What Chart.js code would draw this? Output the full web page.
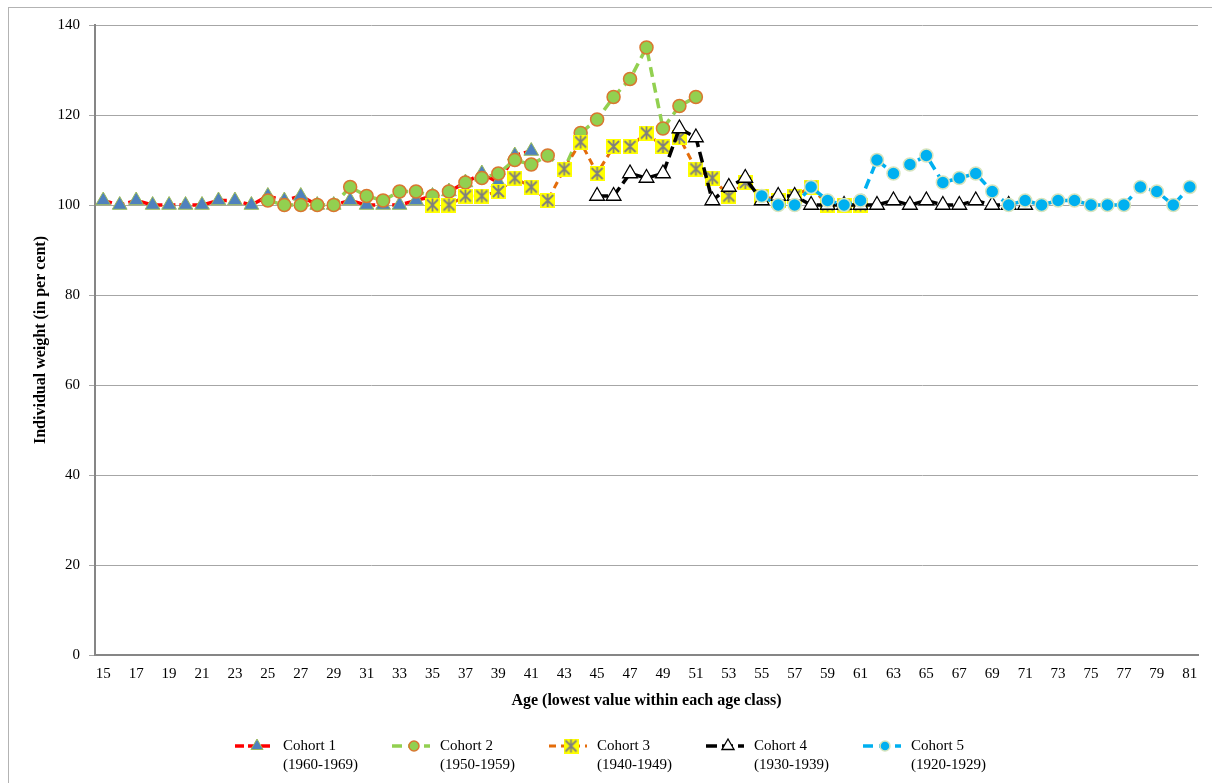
<!DOCTYPE html>
<html lang="en">
<head>
  <meta charset="UTF-8" />
  <title>Individual weight by age and cohort</title>
  <script src="https://cdn.jsdelivr.net/npm/chart.js"></script>
  <style>
    html, body { margin: 0; padding: 0; background: #fff; overflow: hidden; }
    #wrap { position: relative; width: 1212px; height: 783px; }
  </style>
</head>
<body>
  <div id="wrap"><canvas id="weightChart"></canvas></div>

  <script>
    // ages 15..81
    const ages = [];
    for (let a = 15; a <= 81; a++) ages.push(String(a));

    const yTicks = [0, 20, 40, 60, 80, 100, 120, 140];

    const cohortNames = ['Cohort 1', 'Cohort 2', 'Cohort 3', 'Cohort 4', 'Cohort 5'];
    const cohortYears = ['(1960-1969)', '(1950-1959)', '(1940-1949)', '(1930-1939)', '(1920-1929)'];
    const cohortStart = [15, 25, 35, 45, 55];

    // values, starting at cohortStart age
    const cohort1 = [101, 100, 101, 100, 100, 100, 100, 101, 101, 100, 102, 101, 102, 100, 100,
                     101, 100, 100, 100, 101, 102, 103, 105, 107, 105, 111, 112];
    const cohort2 = [101, 100, 100, 100, 100, 104, 102, 101, 103, 103, 102, 103, 105, 106, 107,
                     110, 109, 111, 108, 116, 119, 124, 128, 135, 117, 122, 124];
    const cohort3 = [100, 100, 102, 102, 103, 106, 104, 101, 108, 114, 107, 113, 113, 116, 113,
                     115, 108, 106, 102, 105, 102, 101, 102, 104, 100, 100, 100];
    const cohort4 = [102, 102, 107, 106, 107, 117, 115, 101, 104, 106, 101, 102, 102, 100, 100,
                     100, 100, 100, 101, 100, 101, 100, 100, 101, 100, 100, 100];
    const cohort5 = [102, 100, 100, 104, 101, 100, 101, 110, 107, 109, 111, 105, 106, 107, 103,
                     100, 101, 100, 101, 101, 100, 100, 100, 104, 103, 100, 104];

    function place(values, start) {
      return ages.map(a => {
        const i = Number(a) - start;
        return (i >= 0 && i < values.length) ? values[i] : null;
      });
    }

    // yellow square with grey asterisk (cohort 3 marker)
    function starBox(size) {
      const c = document.createElement('canvas');
      c.width = size; c.height = size;
      const g = c.getContext('2d');
      g.fillStyle = '#ffff00';
      g.fillRect(0, 0, size, size);
      g.strokeStyle = '#7f7f7f';
      g.lineWidth = 1.8;
      g.beginPath();
      g.moveTo(2, 2); g.lineTo(size - 2, size - 2);
      g.moveTo(size - 2, 2); g.lineTo(2, size - 2);
      g.moveTo(size / 2, 1); g.lineTo(size / 2, size - 1);
      g.stroke();
      return c;
    }
    const starImg = starBox(15);

    const styles = [
      { line: '#ff0000', width: 3.5, dash: [9, 4], point: 'triangle', radius: 8.5, fill: '#4f81bd', edge: '#9bbb59', edgeW: 1 },
      { line: '#92d050', width: 3.5, dash: [10, 6], point: 'circle', radius: 6.5, fill: '#92d050', edge: '#d9772f', edgeW: 1.5 },
      { line: '#e46c0a', width: 3, dash: [7, 5], point: starImg, radius: 7.5, fill: '#ffff00', edge: '#7f7f7f', edgeW: 1 },
      { line: '#000000', width: 3.5, dash: [11, 5], point: 'triangle', radius: 8.5, fill: '#ffffff', edge: '#000000', edgeW: 1.3 },
      { line: '#00b0f0', width: 3.5, dash: [10, 6], point: 'circle', radius: 6.5, fill: '#00b0f0', edge: '#d7e4bd', edgeW: 1.5 }
    ];

    const series = [cohort1, cohort2, cohort3, cohort4, cohort5];

    const datasets = series.map((vals, i) => ({
      label: cohortNames[i],
      data: place(vals, cohortStart[i]),
      borderColor: styles[i].line,
      borderWidth: styles[i].width,
      borderDash: styles[i].dash,
      pointStyle: styles[i].point,
      pointRadius: styles[i].radius,
      pointHoverRadius: styles[i].radius,
      pointBackgroundColor: styles[i].fill,
      pointBorderColor: styles[i].edge,
      pointBorderWidth: styles[i].edgeW,
      tension: 0,
      fill: false,
      order: 5 - i
    }));

    const serif = "'Liberation Serif', 'Times New Roman', serif";

    const frameAndLegend = {
      id: 'frameAndLegend',
      beforeDraw(chart) {
        const ctx = chart.ctx;
        ctx.save();
        ctx.fillStyle = '#fff';
        ctx.fillRect(0, 0, chart.width, chart.height);
        ctx.strokeStyle = '#b3b3b3';
        ctx.lineWidth = 1;
        ctx.strokeRect(8.5, 7.5, chart.width + 20, chart.height + 20);
        ctx.restore();
      },
      afterDraw(chart) {
        const ctx = chart.ctx;
        ctx.save();
        chart.data.datasets.forEach((ds, i) => {
          const x0 = 235 + i * 157;
          const y = 746;
          ctx.strokeStyle = ds.borderColor;
          ctx.lineWidth = ds.borderWidth;
          ctx.setLineDash(ds.borderDash);
          ctx.beginPath();
          ctx.moveTo(x0, y);
          ctx.lineTo(x0 + 38, y);
          ctx.stroke();
          ctx.setLineDash([]);
          ctx.fillStyle = ds.pointBackgroundColor;
          ctx.strokeStyle = ds.pointBorderColor;
          ctx.lineWidth = ds.pointBorderWidth;
          Chart.helpers.drawPoint(ctx, { pointStyle: ds.pointStyle, radius: ds.pointRadius - 1.5, borderWidth: ds.pointBorderWidth, rotation: 0 }, x0 + 22, y);
          ctx.fillStyle = '#000';
          ctx.font = '15px ' + serif;
          ctx.textAlign = 'left';
          ctx.textBaseline = 'middle';
          ctx.fillText(cohortNames[i], x0 + 48, y);
          ctx.fillText(cohortYears[i], x0 + 48, y + 19);
        });
        ctx.restore();
      }
    };

    new Chart(document.getElementById('weightChart'), {
      type: 'line',
      data: { labels: ages, datasets: datasets },
      plugins: [frameAndLegend],
      options: {
        responsive: true,
        maintainAspectRatio: false,
        animation: false,
        layout: { padding: { left: 0, right: 14, top: 25, bottom: 0 } },
        plugins: {
          legend: { display: false },
          tooltip: { enabled: false }
        },
        scales: {
          x: {
            offset: true,
            grid: { display: false, drawTicks: false },
            border: { color: '#868686', width: 2 },
            ticks: {
              autoSkip: false,
              maxRotation: 0,
              color: '#000',
              padding: 10,
              font: { family: serif, size: 15 },
              callback: function (val, idx) { return idx % 2 === 0 ? ages[idx] : ''; }
            },
            title: {
              display: true,
              text: 'Age (lowest value within each age class)',
              color: '#000',
              font: { family: serif, size: 16, weight: 'bold' },
              padding: { top: 0, bottom: 73 }
            },
            afterFit: scale => { scale.height = 128; }
          },
          y: {
            min: 0,
            max: 140,
            afterBuildTicks: scale => { scale.ticks = yTicks.map(v => ({ value: v })); },
            grid: { color: '#a6a6a6', lineWidth: 1, drawTicks: true, tickLength: 6 },
            border: { color: '#868686', width: 2 },
            ticks: {
              color: '#000',
              padding: 9,
              font: { family: serif, size: 15 }
            },
            title: {
              display: true,
              text: 'Individual weight (in per cent)',
              color: '#000',
              font: { family: serif, size: 16, weight: 'bold' },
              padding: { top: 31, bottom: 0 }
            },
            afterFit: scale => { scale.width = 95; }
          }
        }
      }
    });
  </script>
</body>
</html>
